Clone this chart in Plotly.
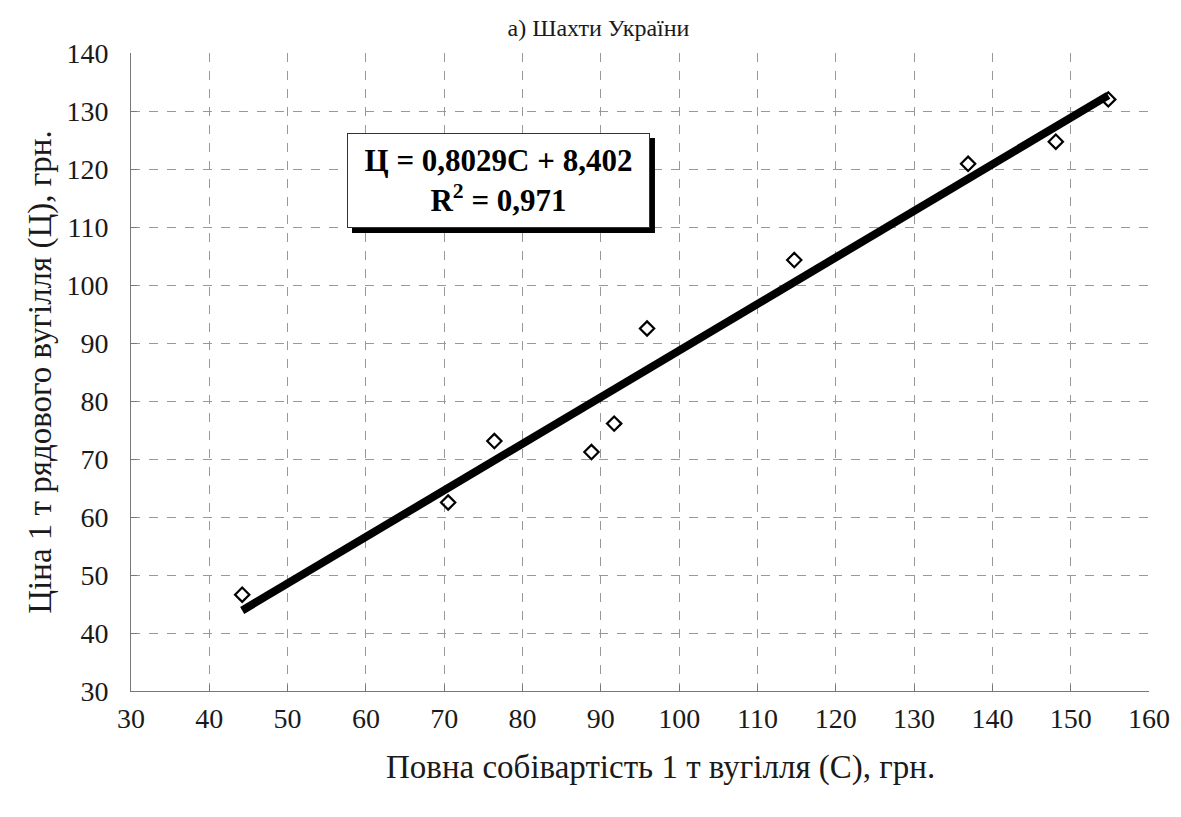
import plotly.graph_objects as go

cost = [44.2, 70.5, 76.4, 88.8, 91.7, 95.9, 114.7, 136.9, 148.1, 154.8]
price = [46.6, 62.5, 73.1, 71.2, 76.1, 92.5, 104.3, 120.9, 124.7, 132.0]
slope = 0.8029
intercept = 8.402
x_ticks = list(range(30, 161, 10))
y_ticks = list(range(30, 141, 10))

xmin, xmax = min(cost), max(cost)
trend_x = [xmin, xmax]
trend_y = [slope * v + intercept for v in trend_x]

FONT = "Times New Roman, Liberation Serif, DejaVu Serif, serif"

fig = go.Figure()
fig.add_trace(go.Scatter(x=trend_x, y=trend_y, mode="lines",
                         line=dict(color="black", width=8), showlegend=False, hoverinfo="skip"))
fig.add_trace(go.Scatter(x=cost, y=price, mode="markers",
                         marker=dict(symbol="diamond-open", size=11, color="black",
                                     line=dict(width=2.2, color="black")),
                         showlegend=False))

grid = dict(showgrid=True, gridcolor="#999", griddash="dash", gridwidth=1,
            showline=True, linecolor="#777", linewidth=1,
            ticks="inside", ticklen=6, tickcolor="#777", zeroline=False,
            tickfont=dict(family=FONT, size=28, color="#1a1a1a"))

fig.update_layout(
    width=1181, height=817,
    margin=dict(l=123, r=40, t=45, b=134, autoexpand=False),
    paper_bgcolor="white", plot_bgcolor="white",
    font=dict(family=FONT, size=28, color="#1a1a1a"),
    title=dict(text="а) Шахти України", x=0.5, xanchor="center", y=0.9755, yanchor="middle",
               font=dict(family=FONT, size=24, color="#1a1a1a")),
    xaxis=dict(range=[30, 160], tickvals=x_ticks, ticklabelstandoff=2, automargin=False,
               **grid),
    yaxis=dict(range=[30, 140], tickvals=y_ticks, ticklabelstandoff=16, automargin=False,
               title=dict(text="Ціна 1 т рядового вугілля (Ц), грн.", standoff=4,
                          font=dict(family=FONT, size=33, color="#1a1a1a")),
               **grid),
)

# x-axis title, placed slightly right of centre as in the reference
fig.add_annotation(xref="paper", yref="paper", x=0.52, y=-0.12,
                   xanchor="center", yanchor="middle", showarrow=False,
                   text="Повна собівартість 1 т вугілля (С), грн.",
                   font=dict(family=FONT, size=33, color="#1a1a1a"))

# shadow for the equation box (offset right/down)
fig.add_shape(type="rect", xref="paper", yref="paper",
              x0=0.2171, x1=0.5147, y0=0.7179, y1=0.8668,
              fillcolor="black", line=dict(width=0), layer="above")
fig.add_annotation(xref="paper", yref="paper", x=0.361, y=0.800,
                   xanchor="center", yanchor="middle",
                   text="<b>Ц = 0,8029С + 8,402</b><br><b>R<sup>2</sup> = 0,971</b>",
                   showarrow=False, align="center",
                   font=dict(family=FONT, size=31, color="black"),
                   bgcolor="white", bordercolor="#333", borderwidth=1, borderpad=0,
                   width=301, height=93)

fig.write_html("out.html")
